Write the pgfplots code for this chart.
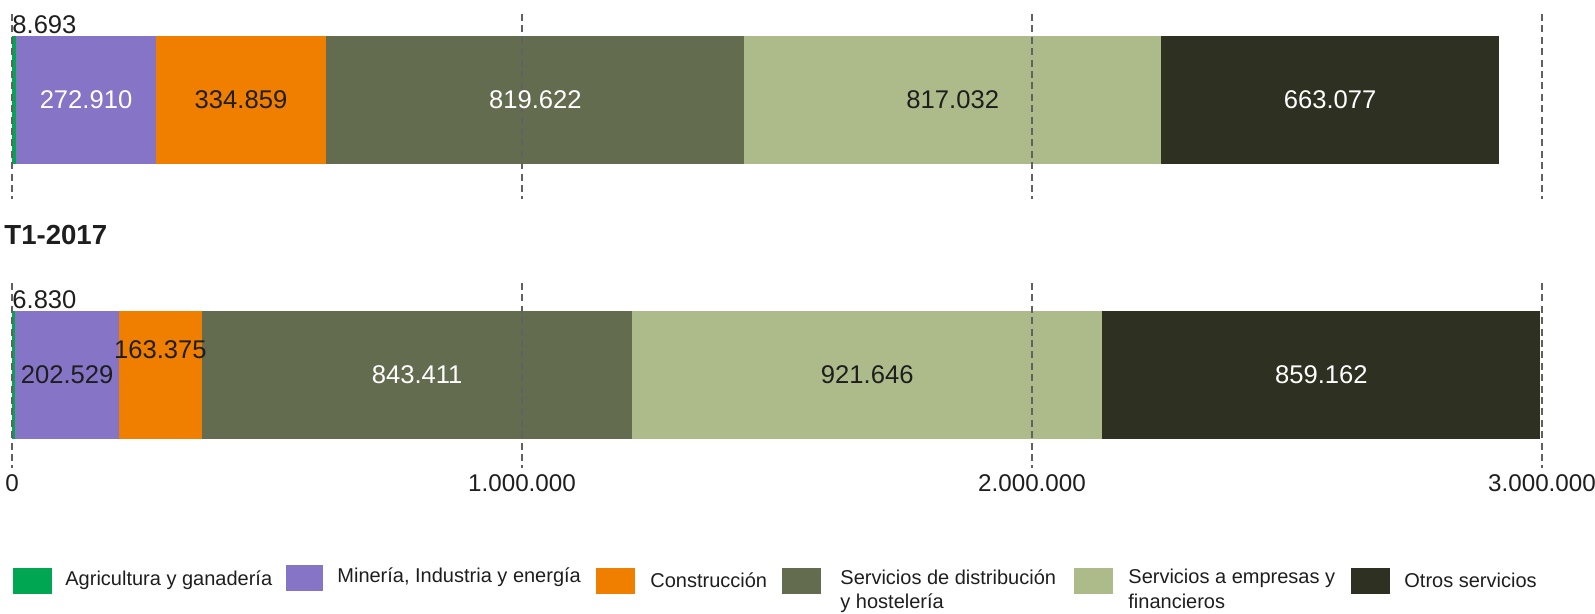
\documentclass[border=0pt]{standalone}
\usepackage{pgfplots}
\pgfplotsset{compat=1.18}
\usepackage{fontspec}
\setmainfont{Liberation Sans}

\definecolor{cAgri}{RGB}{0,166,81}
\definecolor{cMin}{RGB}{134,116,198}
\definecolor{cCons}{RGB}{240,127,0}
\definecolor{cDist}{RGB}{100,108,80}
\definecolor{cEmp}{RGB}{173,187,139}
\definecolor{cOtros}{RGB}{46,49,34}
\definecolor{txtdark}{RGB}{30,30,30}

\newcommand{\numfont}{\fontsize{12.8}{14}\selectfont}
\newcommand{\legfont}{\fontsize{10}{12.2}\selectfont}

\tikzset{gridline/.style={black!62, line width=0.7pt, dash pattern=on 3.5pt off 2.2pt}}

\pgfplotsset{
  barpanel/.style={
    width=765pt, height=92.5pt, scale only axis,
    xmin=0, xmax=3000000,
    xbar stacked, bar width=1,
    xtick={0,1000000,2000000,3000000},
    scaled x ticks=false,
    axis line style={draw=none},
    major tick style={draw=none},
    ytick=\empty,
    clip=false,
    /pgf/number format/assume math mode=true,
  },
}

\begin{document}
\begin{tikzpicture}
\path[use as bounding box] (0,0) rectangle (797.5pt,-307pt);

% panel 1
\begin{axis}[barpanel, at={(6pt,-99.5pt)}, anchor=south west,
  ymin=-0.7734, ymax=0.6719, xticklabels={,,,}]
\addplot[fill=cAgri, draw=none] coordinates {(8693,0)};
\addplot[fill=cMin, draw=none] coordinates {(272910,0)};
\addplot[fill=cCons, draw=none] coordinates {(334859,0)};
\addplot[fill=cDist, draw=none] coordinates {(819622,0)};
\addplot[fill=cEmp, draw=none] coordinates {(817032,0)};
\addplot[fill=cOtros, draw=none] coordinates {(663077,0)};
\coordinate (a0) at (axis cs:0,0.59);
\coordinate (a1) at (axis cs:145148,0);
\coordinate (a2) at (axis cs:449032,0);
\coordinate (a3) at (axis cs:1026273,0);
\coordinate (a4) at (axis cs:1844600,0);
\coordinate (a5) at (axis cs:2584655,0);
\coordinate (ta0) at (axis cs:0,0.6719);       \coordinate (tb0) at (axis cs:0,-0.7734);
\coordinate (ta1) at (axis cs:1000000,0.6719); \coordinate (tb1) at (axis cs:1000000,-0.7734);
\coordinate (ta2) at (axis cs:2000000,0.6719); \coordinate (tb2) at (axis cs:2000000,-0.7734);
\coordinate (ta3) at (axis cs:3000000,0.6719); \coordinate (tb3) at (axis cs:3000000,-0.7734);
\end{axis}
\foreach \i in {0,...,3} {\draw[gridline] (ta\i) -- (tb\i);}
\node[anchor=west, inner sep=0, text=txtdark, font=\numfont] at (a0) {8.693};
\node[text=white, font=\numfont] at (a1) {272.910};
\node[text=txtdark, font=\numfont] at (a2) {334.859};
\node[text=white, font=\numfont] at (a3) {819.622};
\node[text=txtdark, font=\numfont] at (a4) {817.032};
\node[text=white, font=\numfont] at (a5) {663.077};

\node[anchor=west, inner sep=0, text=txtdark, font=\fontsize{13.8}{15}\selectfont\bfseries] at (2pt,-117.5pt) {T1-2017};

% panel 2
\begin{axis}[barpanel, at={(6pt,-234pt)}, anchor=south west,
  ymin=-0.7266, ymax=0.71875,
  xticklabels={0,1.000.000,2.000.000,3.000.000},
  xticklabel style={anchor=center, yshift=-7.5pt, font=\fontsize{12.1}{14}\selectfont, text=txtdark}]
\addplot[fill=cAgri, draw=none] coordinates {(6830,0)};
\addplot[fill=cMin, draw=none] coordinates {(202529,0)};
\addplot[fill=cCons, draw=none] coordinates {(163375,0)};
\addplot[fill=cDist, draw=none] coordinates {(843411,0)};
\addplot[fill=cEmp, draw=none] coordinates {(921646,0)};
\addplot[fill=cOtros, draw=none] coordinates {(859162,0)};
\coordinate (b0) at (axis cs:0,0.59);
\coordinate (b1) at (axis cs:108095,0);
\coordinate (b2) at (axis cs:291046,0.195);
\coordinate (b3) at (axis cs:794440,0);
\coordinate (b4) at (axis cs:1676968,0);
\coordinate (b5) at (axis cs:2567372,0);
\coordinate (ua0) at (axis cs:0,0.71875);       \coordinate (ub0) at (axis cs:0,-0.7266);
\coordinate (ua1) at (axis cs:1000000,0.71875); \coordinate (ub1) at (axis cs:1000000,-0.7266);
\coordinate (ua2) at (axis cs:2000000,0.71875); \coordinate (ub2) at (axis cs:2000000,-0.7266);
\coordinate (ua3) at (axis cs:3000000,0.71875); \coordinate (ub3) at (axis cs:3000000,-0.7266);
\end{axis}
\foreach \i in {0,...,3} {\draw[gridline] (ua\i) -- (ub\i);}
\node[anchor=west, inner sep=0, text=txtdark, font=\numfont] at (b0) {6.830};
\node[text=txtdark, font=\numfont] at (b1) {202.529};
\node[text=txtdark, font=\numfont] at (b2) {163.375};
\node[text=white, font=\numfont] at (b3) {843.411};
\node[text=txtdark, font=\numfont] at (b4) {921.646};
\node[text=white, font=\numfont] at (b5) {859.162};

% legend
\fill[cAgri] (6.5pt,-284pt) rectangle (26pt,-297pt);
\node[anchor=west, inner sep=0, text=txtdark, font=\legfont] at (32.5pt,-290pt) {Agricultura y ganadería};
\fill[cMin] (143pt,-282.5pt) rectangle (161.5pt,-295.5pt);
\node[anchor=west, inner sep=0, text=txtdark, font=\legfont] at (168.5pt,-288.5pt) {Minería, Industria y energía};
\fill[cCons] (298pt,-284pt) rectangle (317.5pt,-297pt);
\node[anchor=west, inner sep=0, text=txtdark, font=\legfont] at (325pt,-290pt) {Construcción};
\fill[cDist] (391pt,-284pt) rectangle (410.5pt,-297pt);
\node[anchor=north west, inner sep=0, align=left, text=txtdark, font=\legfont] at (420pt,-284.5pt) {Servicios de distribución\\y hostelería};
\fill[cEmp] (537pt,-284pt) rectangle (556.5pt,-297pt);
\node[anchor=north west, inner sep=0, align=left, text=txtdark, font=\legfont] at (564pt,-284.5pt) {Servicios a empresas y\\financieros};
\fill[cOtros] (675.5pt,-284pt) rectangle (695pt,-297pt);
\node[anchor=west, inner sep=0, text=txtdark, font=\legfont] at (702pt,-290pt) {Otros servicios};
\end{tikzpicture}
\end{document}
